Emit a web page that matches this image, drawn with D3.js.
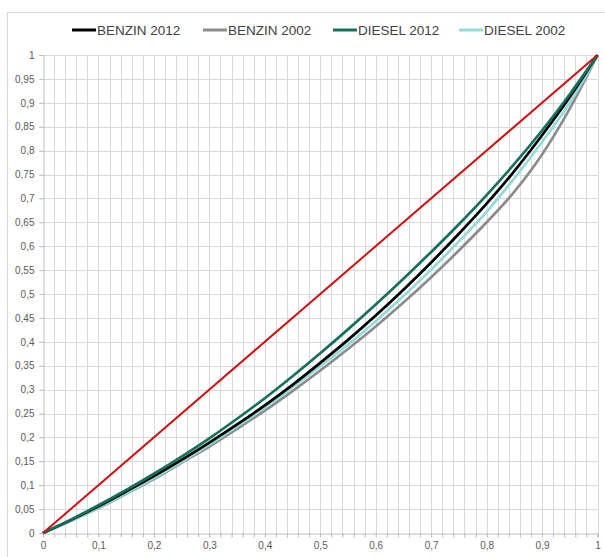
<!DOCTYPE html>
<html><head><meta charset="utf-8">
<script src="https://cdn.jsdelivr.net/npm/d3@7"></script>
<style>body{margin:0;background:#fff}svg{display:block}</style>
</head><body>
<svg id="c" width="605" height="557"></svg>
<script>
// population share (x) values
const xs = [0,0.05,0.1,0.15,0.2,0.25,0.3,0.35,0.4,0.45,0.5,0.55,0.6,0.65,0.7,0.75,0.8,0.85,0.9,0.95,1];
const benzin2012 = [0,0.027,0.056,0.087,0.119,0.153,0.189,0.227,0.267,0.310,0.356,0.404,0.455,0.509,0.566,0.626,0.689,0.757,0.832,0.912,1];
const benzin2002 = [0,0.025,0.052,0.082,0.113,0.147,0.181,0.218,0.256,0.297,0.340,0.385,0.432,0.482,0.535,0.591,0.650,0.714,0.792,0.888,1];
const diesel2012 = [0,0.028,0.058,0.090,0.124,0.160,0.198,0.239,0.282,0.328,0.376,0.426,0.478,0.532,0.588,0.646,0.707,0.772,0.842,0.918,1];
const diesel2002 = [0,0.025,0.053,0.083,0.115,0.149,0.185,0.223,0.262,0.305,0.349,0.394,0.443,0.496,0.551,0.610,0.672,0.742,0.818,0.900,1];
const equality = [0,1];
const equalityX = [0,1];
const seriesNames = ["BENZIN 2012","BENZIN 2002","DIESEL 2012","DIESEL 2002"];
const seriesColors = ["#000000","#8c8c8c","#17705e","#94dada"];
const xTickLabels = [0,0.1,0.2,0.3,0.4,0.5,0.6,0.7,0.8,0.9,1];
const yTickLabels = d3.range(0,21).map(i=>i/20);

const svg = d3.select("#c");
const x = d3.scaleLinear().domain([0,1]).range([43,597.5]);
const y = d3.scaleLinear().domain([0,1]).range([533,55]);
const loc = d3.formatLocale({decimal:",",thousands:".",grouping:[3],currency:["","€"]});
const fmt = loc.format(".2~f");

// outer border
svg.append("rect").attr("x",7.5).attr("y",12.5).attr("width",620).attr("height",600)
  .attr("fill","none").attr("stroke","#d9d9d9").attr("stroke-width",1);

// gridlines
const vg = d3.range(1,51).map(i=>i/50);
svg.append("g").selectAll("line").data(vg).join("line")
  .attr("x1",d=>Math.round(x(d))+0.5).attr("x2",d=>Math.round(x(d))+0.5)
  .attr("y1",y(1)).attr("y2",y(0)+4)
  .attr("stroke","#d9d9d9").attr("stroke-width",1);
svg.append("g").selectAll("line").data(yTickLabels.slice(1)).join("line")
  .attr("x1",x(0)-4).attr("x2",x(1))
  .attr("y1",d=>Math.round(y(d))+0.5).attr("y2",d=>Math.round(y(d))+0.5)
  .attr("stroke","#d9d9d9").attr("stroke-width",1);

// axes
const xAxis = d3.axisBottom(x).tickValues(vg.concat([0])).tickSize(4).tickFormat(d=>xTickLabels.some(t=>Math.abs(t-d)<1e-9)?fmt(d):"");
const gx = svg.append("g").attr("transform",`translate(0,${Math.round(y(0))+0.5})`).call(xAxis);
const yAxis = d3.axisLeft(y).tickValues(yTickLabels).tickSize(4).tickFormat(fmt);
const gy = svg.append("g").attr("transform",`translate(${Math.round(x(0))+0.5},0)`).call(yAxis);
[gx,gy].forEach(g=>{
  g.select(".domain").attr("stroke","#bfbfbf");
  g.selectAll(".tick line").attr("stroke","#bfbfbf");
  g.selectAll("text").attr("fill","#595959").style("font-family","Liberation Sans, Arial, sans-serif").style("font-size","10px");
});
gx.selectAll("text").attr("dy","0.9em").attr("y",6);
gy.selectAll("text").attr("x",-9);

// lines
const line = d3.line().x((d,i)=>x(xs[i])).y(d=>y(d)).curve(d3.curveMonotoneX);
const data = [benzin2012,benzin2002,diesel2012,diesel2002];
const order = [1,3,0,2];
order.forEach(k=>{
  svg.append("path").datum(data[k]).attr("d",line)
    .attr("fill","none").attr("stroke",seriesColors[k]).attr("stroke-width",2.7)
    .attr("stroke-linejoin","round");
});
const eqLine = d3.line().x((d,i)=>x(equalityX[i])).y(d=>y(d));
svg.append("path").datum(equality).attr("d",eqLine)
  .attr("fill","none").attr("stroke","#d01010").attr("stroke-width",2);

// legend
const legX = [72,203,333,459];
const lg = svg.append("g");
seriesNames.forEach((n,i)=>{
  lg.append("line").attr("x1",legX[i]).attr("x2",legX[i]+24).attr("y1",30).attr("y2",30)
    .attr("stroke",seriesColors[i]).attr("stroke-width",3);
  lg.append("text").attr("x",legX[i]+25).attr("y",30).attr("dy","0.35em")
    .attr("fill","#404040").style("font-family","Liberation Sans, Arial, sans-serif")
    .style("font-size","13.5px").text(n);
});
</script>
</body></html>
